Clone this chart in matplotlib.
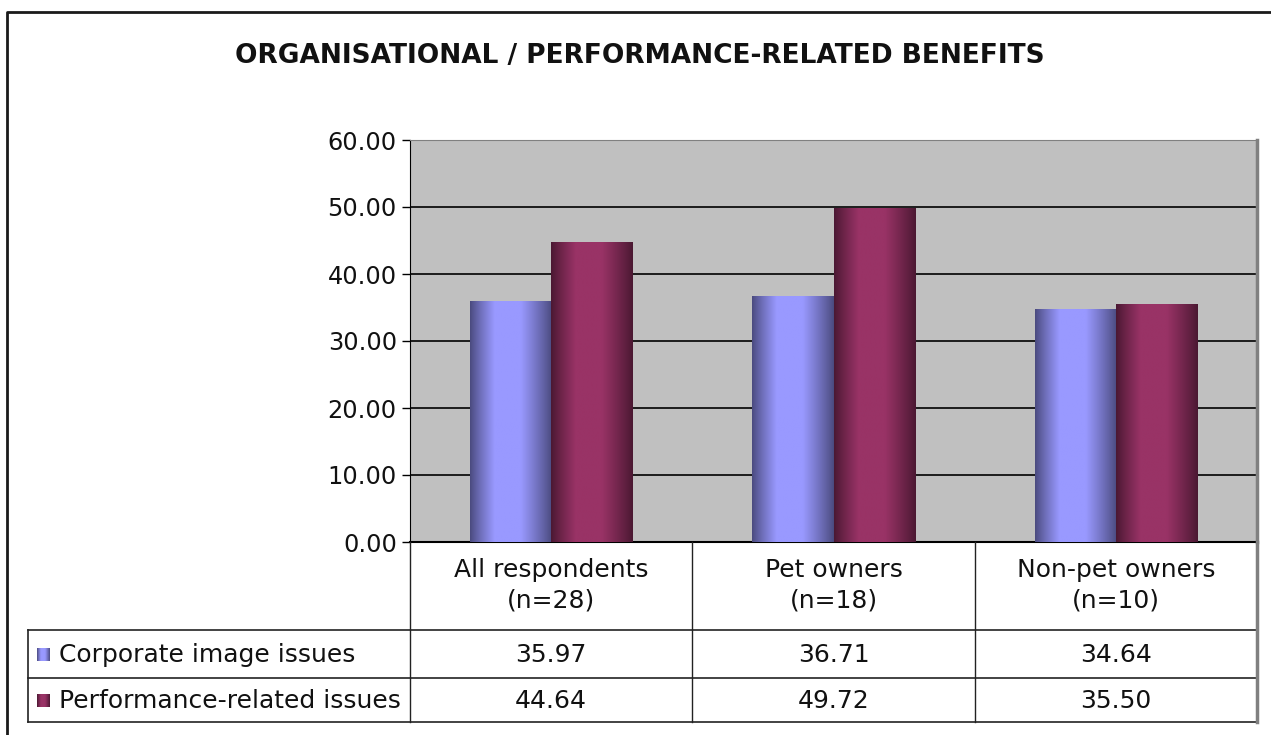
import numpy as np
import matplotlib
matplotlib.use("Agg")
import matplotlib.pyplot as plt
from matplotlib.colors import LinearSegmentedColormap

# data
categories = ["All respondents\n(n=28)", "Pet owners\n(n=18)", "Non-pet owners\n(n=10)"]
series_names = ["Corporate image issues", "Performance-related issues"]
corporate = [35.97, 36.71, 34.64]
performance = [44.64, 49.72, 35.50]
yticks = [0, 10, 20, 30, 40, 50, 60]

W, H = 1271, 735
fig = plt.figure(figsize=(W / 100, H / 100), dpi=100)
fs = 18

# plot area in pixels
px_left, px_right, px_top, px_bottom = 410, 1257, 140, 542
ax = fig.add_axes([px_left / W, 1 - px_bottom / H,
                   (px_right - px_left) / W, (px_bottom - px_top) / H])
ax.set_facecolor("#C0C0C0")
ax.set_xlim(-0.5, len(categories) - 0.5)
ax.set_ylim(0, 60)
ax.set_yticks(yticks)
ax.set_yticklabels(["%.2f" % v for v in yticks], fontsize=17.3, family="DejaVu Sans",
                   color="#111111")
ax.set_xticks([])
ax.tick_params(axis="y", length=6, width=1, color="black", pad=3.5)
for v in yticks[1:-1]:
    ax.axhline(v, color="black", lw=1.2, zorder=1)
ax.spines["left"].set_color("black")
ax.spines["bottom"].set_color("black")
ax.spines["bottom"].set_linewidth(1.5)
ax.spines["top"].set_color("#808080")
ax.spines["right"].set_color("#808080")
ax.spines["right"].set_linewidth(2.5)

blue_cmap = LinearSegmentedColormap.from_list("b", ["#4A4A7E", "#9999FF"])
red_cmap = LinearSegmentedColormap.from_list("r", ["#4A1832", "#993366"])
t = np.linspace(0, 1, 200)
profile = np.interp(t, [0, 0.3, 0.62, 1], [0, 1, 1, 0]) ** 0.9
grad = profile[np.newaxis, :]

bw = 0.287
x = np.arange(len(categories))
for vals, cmap, off in [(corporate, blue_cmap, -bw / 2), (performance, red_cmap, bw / 2)]:
    for xi, v in zip(x, vals):
        x0 = xi + off - bw / 2
        ax.imshow(grad, cmap=cmap, vmin=0, vmax=1, aspect="auto",
                  extent=(x0, x0 + bw, 0, v), zorder=3, interpolation="bilinear")
ax.set_xlim(-0.5, len(categories) - 0.5)
ax.set_ylim(0, 60)

# overlay for table, title and border (pixel coordinates)
ov = fig.add_axes([0, 0, 1, 1], facecolor="none")
ov.set_xlim(0, W)
ov.set_ylim(H, 0)
ov.axis("off")

ov.plot([7, 7, W + 5], [H + 5, 12, 12], color="#1a1a1a", lw=2)

ov.text(640, 63, "ORGANISATIONAL / PERFORMANCE-RELATED BENEFITS", ha="center", va="baseline",
        fontsize=19, fontweight="bold", family="DejaVu Sans", color="#111111")

tab_left = 28
row_tops = [630, 678, 722]
col_w = (px_right - px_left) / len(categories)
lc = "#222222"
for i in range(len(categories) + 1):
    xv = px_left + i * col_w
    ov.plot([xv, xv], [px_bottom, row_tops[-1]], color=lc, lw=1)
for y in row_tops:
    ov.plot([tab_left, px_right], [y, y], color=lc, lw=1.2)
ov.plot([tab_left, tab_left], [row_tops[0], row_tops[-1]], color=lc, lw=1.2)
ov.plot([px_right, px_right], [px_bottom, row_tops[-1]], color="#808080", lw=2.5)

for i, c in enumerate(categories):
    ov.text(px_left + (i + 0.5) * col_w, 585, c, ha="center", va="center",
            fontsize=fs, family="DejaVu Sans", linespacing=1.32, color="#111111")

for r, (name, vals, cmap) in enumerate(zip(series_names, [corporate, performance],
                                            [blue_cmap, red_cmap])):
    yc = (row_tops[r] + row_tops[r + 1]) / 2 + 1
    ov.imshow(grad, cmap=cmap, vmin=0, vmax=1, aspect="auto",
              extent=(37, 50, yc + 6.5, yc - 6.5), interpolation="bilinear")
    ov.text(59, yc, name, ha="left", va="center", fontsize=fs,
            family="DejaVu Sans", color="#111111")
    for i, v in enumerate(vals):
        ov.text(px_left + (i + 0.5) * col_w, yc, "%.2f" % v, ha="center", va="center",
                fontsize=fs, family="DejaVu Sans", color="#111111")
ov.set_xlim(0, W)
ov.set_ylim(H, 0)

fig.savefig("out.png", dpi=100, facecolor="white")
